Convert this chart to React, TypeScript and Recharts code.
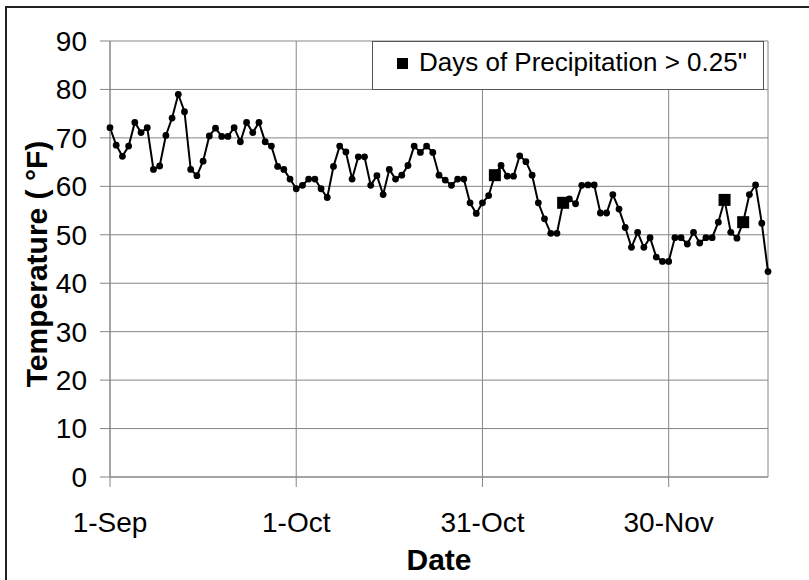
import {
  ComposedChart,
  Line,
  Scatter,
  XAxis,
  YAxis,
  CartesianGrid,
  Legend,
  Label,
} from "recharts";

// daily mean temperature, one value per day starting 1-Sep
const temps = [
  72.1, 68.5, 66.2, 68.3, 73.2, 71.1, 72.1, 63.5, 64.2, 70.5,
  74.1, 79.0, 75.4, 63.5, 62.2, 65.2, 70.4, 72.0, 70.3, 70.3,
  72.1, 69.2, 73.2, 71.1, 73.2, 69.2, 68.3, 64.1, 63.5, 61.5,
  59.5, 60.2, 61.5, 61.5, 59.5, 57.7, 64.1, 68.3, 67.1, 61.5,
  66.1, 66.1, 60.2, 62.2, 58.3, 63.5, 61.5, 62.3, 64.3, 68.3,
  67.0, 68.3, 67.0, 62.3, 61.3, 60.2, 61.5, 61.5, 56.6, 54.4,
  56.6, 58.1, 62.3, 64.3, 62.1, 62.1, 66.3, 65.1, 62.3, 56.6,
  53.3, 50.3, 50.3, 56.6, 57.4, 56.4, 60.2, 60.3, 60.3, 54.5,
  54.5, 58.3, 55.3, 51.5, 47.4, 50.5, 47.4, 49.4, 45.4, 44.5,
  44.5, 49.4, 49.4, 48.1, 50.5, 48.3, 49.4, 49.4, 52.6, 57.2,
  50.5, 49.3, 52.6, 58.3, 60.3, 52.4, 42.4,
];

// days (from 1-Sep) with precipitation > 0.25"
const precipDays = [62, 73, 99, 102];

const tickDays = [0, 30, 60, 90];
const tickLabels = ["1-Sep", "1-Oct", "31-Oct", "30-Nov"];
const yTicks = [0, 10, 20, 30, 40, 50, 60, 70, 80, 90];

const FONT = "'Liberation Sans', Arial, sans-serif";
const GRID = "#868686";

const chartData = temps.map((t, i) => ({ day: i, temp: t }));
const precipData = precipDays.map((d) => ({ day: d, temp: temps[d] }));

const SquareDot = (props: any) => {
  const { cx, cy } = props;
  if (cx == null || cy == null) return null;
  return <rect x={cx - 6} y={cy - 6} width={12} height={12} fill="#000" />;
};

const LegendBox = () => (
  <div
    style={{
      width: 392,
      height: 49,
      boxSizing: "border-box",
      border: "1px solid #555",
      background: "#fff",
      position: "relative",
      fontFamily: FONT,
    }}
  >
    <svg width={392} height={49} style={{ position: "absolute", left: -1, top: -1 }}>
      <rect x={25} y={17} width={11} height={11} fill="#000" />
      <text x={47} y={30} fontSize={26} fill="#000" fontFamily={FONT}>
        Days of Precipitation &gt; 0.25"
      </text>
    </svg>
  </div>
);

const App = () => {
  return (
    <div
      style={{
        position: "fixed",
        left: 0,
        top: 0,
        width: 809,
        height: 580,
        overflow: "hidden",
        background: "#fff",
      }}
    >
      <div
        style={{
          position: "absolute",
          left: 5,
          top: 6,
          width: 900,
          height: 700,
          borderLeft: "2px solid #222",
          borderTop: "2px solid #222",
        }}
      />
      <div style={{ position: "absolute", left: 0, top: 0 }}>
        <ComposedChart
          width={809}
          height={580}
          data={chartData}
          margin={{ top: 41, right: 41, bottom: 0, left: 0 }}
        >
          <CartesianGrid stroke={GRID} strokeWidth={1} />
          <XAxis
            type="number"
            dataKey="day"
            domain={[0, 106]}
            ticks={tickDays}
            tickFormatter={(v: number) => tickLabels[tickDays.indexOf(v)] ?? ""}
            height={103}
            tickSize={10}
            tickMargin={25}
            stroke={GRID}
            tick={{ fill: "#000", fontSize: 28, fontFamily: FONT }}
            label={
              <Label
                content={() => (
                  <text
                    x={439}
                    y={570}
                    textAnchor="middle"
                    fontSize={30}
                    fontWeight="bold"
                    fontFamily={FONT}
                    fill="#000"
                  >
                    Date
                  </text>
                )}
              />
            }
          />
          <YAxis
            type="number"
            domain={[0, 90]}
            ticks={yTicks}
            width={110}
            tickSize={10}
            tickMargin={13}
            stroke={GRID}
            tick={{ fill: "#000", fontSize: 28, fontFamily: FONT }}
            label={
              <Label
                content={() => (
                  <text
                    x={47}
                    y={264}
                    transform="rotate(-90 47 264)"
                    textAnchor="middle"
                    fontSize={30}
                    fontWeight="bold"
                    fontFamily={FONT}
                    fill="#000"
                  >
                    Temperature ( °F)
                  </text>
                )}
              />
            }
          />
          <Legend
            layout="horizontal"
            align="center"
            verticalAlign="middle"
            wrapperStyle={{ left: 372, top: 41, width: 392, height: 49 }}
            content={() => <LegendBox />}
          />
          <Line
            type="linear"
            dataKey="temp"
            stroke="#000"
            strokeWidth={2}
            dot={{ r: 3.4, fill: "#000", stroke: "none" }}
            activeDot={false}
            legendType="none"
            isAnimationActive={false}
          />
          <Scatter
            data={precipData}
            dataKey="temp"
            shape={<SquareDot />}
            name='Days of Precipitation > 0.25"'
            isAnimationActive={false}
          />
        </ComposedChart>
      </div>
    </div>
  );
};

export default App;
